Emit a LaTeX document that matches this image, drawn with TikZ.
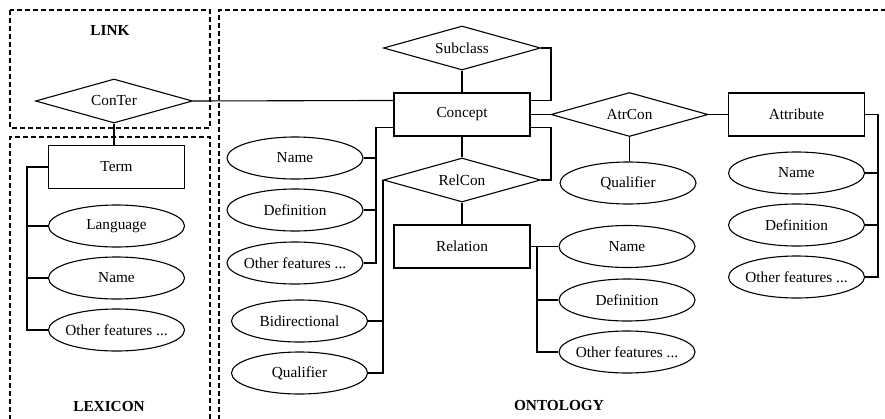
\documentclass[tikz,border=0pt]{standalone}
\usepackage{fontspec}
\setmainfont{Liberation Serif}
\usetikzlibrary{shapes.geometric,calc}
\begin{document}
\begin{tikzpicture}[x=1pt,y=-1pt,
  every node/.style={font=\fontsize{15.3}{18}\selectfont},
  ent/.style={draw,line width=1.1pt,rectangle,minimum width=136pt,minimum height=43pt,inner sep=0pt},
  relsh/.style={draw,line width=1.1pt,diamond,aspect=3.5,minimum width=157pt,minimum height=44pt,inner sep=0pt},
  attr/.style={draw,line width=1.1pt,ellipse,minimum width=136pt,minimum height=42pt,inner xsep=-6pt,inner ysep=0pt},
  title/.style={font=\fontsize{15.3}{18}\selectfont\bfseries},
  dashbox/.style={draw,line width=1.7pt,dash pattern=on 5pt off 3pt},
  conn/.style={draw,line width=1.1pt}]
\useasboundingbox (0,0) rectangle (885,418);
% frames
\draw[dashbox] (10,10) rectangle (210,128);
\draw[dashbox] (10,420) -- (10,137) -- (210,137) -- (210,420);
\draw[dashbox] (219,420) -- (219,10) -- (887,10);
% titles
\node[title] (tlink) at (110,30) {LINK};
\node[title] (tlex) at (109,407) {LEXICON};
\node[title] (tont) at (559,406) {ONTOLOGY};
% lexicon & link
\node[relsh] (conter) at (114,101) {ConTer};
\node[ent] (term) at (116.5,167) {Term};
\node[attr] (language) at (116.5,226) {Language};
\node[attr] (lname) at (116.5,278) {Name};
\node[attr] (lother) at (116.5,330) {Other features ...};
% ontology
\node[relsh] (subclass) at (462,48) {Subclass};
\node[ent] (concept) at (462,114.5) {Concept};
\node[relsh] (relcon) at (462,180) {RelCon};
\node[attr] (cname) at (295,158) {Name};
\node[attr] (cdef) at (295,210) {Definition};
\node[attr] (cother) at (295,263) {Other features ...};
\node[attr] (bidir) at (299.5,321) {Bidirectional};
\node[attr] (rqual) at (299.5,373) {Qualifier};
\node[ent] (relation) at (462,246.5) {Relation};
\node[attr] (rname) at (627,246.5) {Name};
\node[attr] (rdef) at (627,300) {Definition};
\node[attr] (rother) at (627,352) {Other features ...};
\node[relsh] (atrcon) at (629.5,114.5) {AtrCon};
\node[attr] (aqual) at (628,183) {Qualifier};
\node[ent] (attribute) at (796.5,114.5) {Attribute};
\node[attr] (aname) at (796.5,173) {Name};
\node[attr] (adef) at (796.5,225) {Definition};
\node[attr] (aother) at (796.5,277) {Other features ...};
% bus coordinates
\coordinate (lx) at (27,0);
\coordinate (sx) at (551,0);
\coordinate (cbus) at (376,0);
\coordinate (rbus) at (537,0);
\coordinate (abus) at (878,0);
\coordinate (c1) at ($(concept.north east)+(0,8)$);
\coordinate (c2) at ($(concept.south east)+(0,-9)$);
\coordinate (c3) at ($(concept.south west)+(0,-9)$);
\coordinate (c4) at ($(concept.north west)+(0,8)$);
% connectors
\draw[conn] (conter.east) -- (c4);
\draw[conn] (conter.south) -- (conter.south |- term.north);
\draw[conn] (term.west) -- (lx |- term) -- (lx |- lother) -- (lother.west);
\draw[conn] (lx |- language) -- (language.west);
\draw[conn] (lx |- lname) -- (lname.west);
\draw[conn] (subclass.south) -- (concept.north);
\draw[conn] (subclass.east) -- (sx |- subclass) -- (sx |- c1) -- (c1);
\draw[conn] (concept.south) -- (relcon.north);
\draw[conn] (c2) -- (sx |- c2) -- (sx |- relcon) -- (relcon.east);
\draw[conn] (c3) -- (cbus |- c3) -- (cbus |- cother) -- (cother.east);
\draw[conn] (cbus |- cname) -- (cname.east);
\draw[conn] (cbus |- cdef) -- (cdef.east);
\draw[conn] (relcon.west) -- (relcon.west |- rqual) -- (rqual.east);
\draw[conn] (relcon.west |- bidir) -- (bidir.east);
\draw[conn] (relcon.south) -- (relation.north);
\draw[conn] (relation.east) -- (rname.west);
\draw[conn] (rbus |- relation) -- (rbus |- rother) -- (rother.west);
\draw[conn] (rbus |- rdef) -- (rdef.west);
\draw[conn] (concept.east) -- (atrcon.west);
\draw[conn] (atrcon.east) -- (attribute.west);
\draw[conn] (atrcon.south) -- (atrcon.south |- aqual.north);
\draw[conn] (attribute.east) -- (abus |- attribute) -- (abus |- aother) -- (aother.east);
\draw[conn] (abus |- aname) -- (aname.east);
\draw[conn] (abus |- adef) -- (adef.east);
\end{tikzpicture}
\end{document}
